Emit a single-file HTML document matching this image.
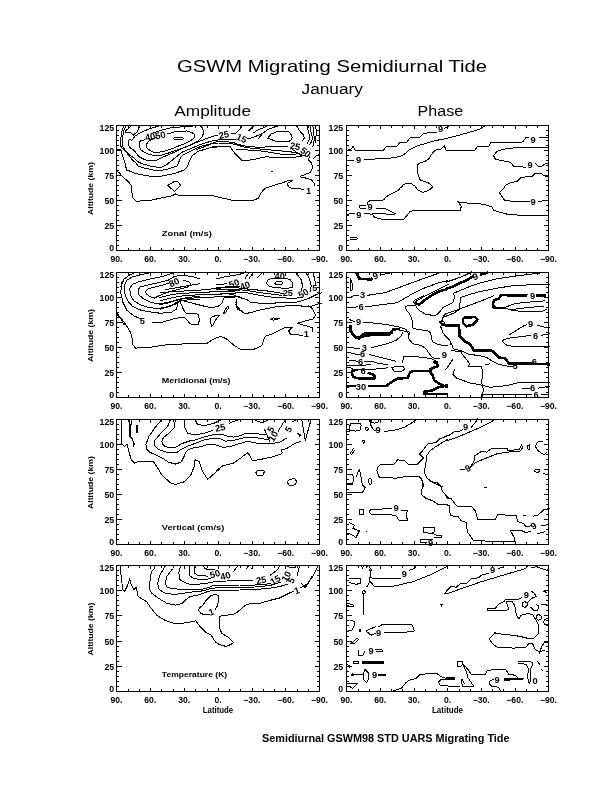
<!DOCTYPE html>
<html><head><meta charset="utf-8"><style>
html,body{margin:0;padding:0;background:#fff;}
svg{display:block;}
text{font-family:"Liberation Sans", "DejaVu Sans", sans-serif;fill:#000;}
</style></head><body>
<svg width="612" height="792" viewBox="0 0 612 792">
<path d="M116.5,125.5H319.5V250.5H116.5ZM116.5,245.5h2.5M319.5,245.5h-2.5M116.5,240.5h2.5M319.5,240.5h-2.5M116.5,235.5h2.5M319.5,235.5h-2.5M116.5,230.5h2.5M319.5,230.5h-2.5M116.5,225.5h5M319.5,225.5h-5M116.5,220.5h2.5M319.5,220.5h-2.5M116.5,215.5h2.5M319.5,215.5h-2.5M116.5,210.5h2.5M319.5,210.5h-2.5M116.5,205.5h2.5M319.5,205.5h-2.5M116.5,200.5h5M319.5,200.5h-5M116.5,195.5h2.5M319.5,195.5h-2.5M116.5,190.5h2.5M319.5,190.5h-2.5M116.5,185.5h2.5M319.5,185.5h-2.5M116.5,180.5h2.5M319.5,180.5h-2.5M116.5,175.5h5M319.5,175.5h-5M116.5,170.5h2.5M319.5,170.5h-2.5M116.5,165.5h2.5M319.5,165.5h-2.5M116.5,160.5h2.5M319.5,160.5h-2.5M116.5,155.5h2.5M319.5,155.5h-2.5M116.5,150.5h5M319.5,150.5h-5M116.5,145.5h2.5M319.5,145.5h-2.5M116.5,140.5h2.5M319.5,140.5h-2.5M116.5,135.5h2.5M319.5,135.5h-2.5M116.5,130.5h2.5M319.5,130.5h-2.5M128.50,250.5v-2.5M128.50,125.5v2.5M139.50,250.5v-2.5M139.50,125.5v2.5M150.50,250.5v-3.5M150.50,125.5v3.5M161.50,250.5v-2.5M161.50,125.5v2.5M173.50,250.5v-2.5M173.50,125.5v2.5M184.50,250.5v-3.5M184.50,125.5v3.5M195.50,250.5v-2.5M195.50,125.5v2.5M207.50,250.5v-2.5M207.50,125.5v2.5M218.50,250.5v-3.5M218.50,125.5v3.5M229.50,250.5v-2.5M229.50,125.5v2.5M240.50,250.5v-2.5M240.50,125.5v2.5M252.50,250.5v-3.5M252.50,125.5v3.5M263.50,250.5v-2.5M263.50,125.5v2.5M274.50,250.5v-2.5M274.50,125.5v2.5M285.50,250.5v-3.5M285.50,125.5v3.5M297.50,250.5v-2.5M297.50,125.5v2.5M308.50,250.5v-2.5M308.50,125.5v2.5" fill="none" stroke="#000" stroke-width="1" shape-rendering="crispEdges"/>
<path d="M346.5,125.5H548.5V250.5H346.5ZM346.5,245.5h2.5M548.5,245.5h-2.5M346.5,240.5h2.5M548.5,240.5h-2.5M346.5,235.5h2.5M548.5,235.5h-2.5M346.5,230.5h2.5M548.5,230.5h-2.5M346.5,225.5h5M548.5,225.5h-5M346.5,220.5h2.5M548.5,220.5h-2.5M346.5,215.5h2.5M548.5,215.5h-2.5M346.5,210.5h2.5M548.5,210.5h-2.5M346.5,205.5h2.5M548.5,205.5h-2.5M346.5,200.5h5M548.5,200.5h-5M346.5,195.5h2.5M548.5,195.5h-2.5M346.5,190.5h2.5M548.5,190.5h-2.5M346.5,185.5h2.5M548.5,185.5h-2.5M346.5,180.5h2.5M548.5,180.5h-2.5M346.5,175.5h5M548.5,175.5h-5M346.5,170.5h2.5M548.5,170.5h-2.5M346.5,165.5h2.5M548.5,165.5h-2.5M346.5,160.5h2.5M548.5,160.5h-2.5M346.5,155.5h2.5M548.5,155.5h-2.5M346.5,150.5h5M548.5,150.5h-5M346.5,145.5h2.5M548.5,145.5h-2.5M346.5,140.5h2.5M548.5,140.5h-2.5M346.5,135.5h2.5M548.5,135.5h-2.5M346.5,130.5h2.5M548.5,130.5h-2.5M358.50,250.5v-2.5M358.50,125.5v2.5M369.50,250.5v-2.5M369.50,125.5v2.5M380.50,250.5v-3.5M380.50,125.5v3.5M391.50,250.5v-2.5M391.50,125.5v2.5M402.50,250.5v-2.5M402.50,125.5v2.5M414.50,250.5v-3.5M414.50,125.5v3.5M425.50,250.5v-2.5M425.50,125.5v2.5M436.50,250.5v-2.5M436.50,125.5v2.5M447.50,250.5v-3.5M447.50,125.5v3.5M459.50,250.5v-2.5M459.50,125.5v2.5M470.50,250.5v-2.5M470.50,125.5v2.5M481.50,250.5v-3.5M481.50,125.5v3.5M492.50,250.5v-2.5M492.50,125.5v2.5M503.50,250.5v-2.5M503.50,125.5v2.5M515.50,250.5v-3.5M515.50,125.5v3.5M526.50,250.5v-2.5M526.50,125.5v2.5M537.50,250.5v-2.5M537.50,125.5v2.5" fill="none" stroke="#000" stroke-width="1" shape-rendering="crispEdges"/>
<path d="M116.5,272.5H319.5V397.5H116.5ZM116.5,392.5h2.5M319.5,392.5h-2.5M116.5,387.5h2.5M319.5,387.5h-2.5M116.5,382.5h2.5M319.5,382.5h-2.5M116.5,377.5h2.5M319.5,377.5h-2.5M116.5,372.5h5M319.5,372.5h-5M116.5,367.5h2.5M319.5,367.5h-2.5M116.5,362.5h2.5M319.5,362.5h-2.5M116.5,357.5h2.5M319.5,357.5h-2.5M116.5,352.5h2.5M319.5,352.5h-2.5M116.5,347.5h5M319.5,347.5h-5M116.5,342.5h2.5M319.5,342.5h-2.5M116.5,337.5h2.5M319.5,337.5h-2.5M116.5,332.5h2.5M319.5,332.5h-2.5M116.5,327.5h2.5M319.5,327.5h-2.5M116.5,322.5h5M319.5,322.5h-5M116.5,317.5h2.5M319.5,317.5h-2.5M116.5,312.5h2.5M319.5,312.5h-2.5M116.5,307.5h2.5M319.5,307.5h-2.5M116.5,302.5h2.5M319.5,302.5h-2.5M116.5,297.5h5M319.5,297.5h-5M116.5,292.5h2.5M319.5,292.5h-2.5M116.5,287.5h2.5M319.5,287.5h-2.5M116.5,282.5h2.5M319.5,282.5h-2.5M116.5,277.5h2.5M319.5,277.5h-2.5M128.50,397.5v-2.5M128.50,272.5v2.5M139.50,397.5v-2.5M139.50,272.5v2.5M150.50,397.5v-3.5M150.50,272.5v3.5M161.50,397.5v-2.5M161.50,272.5v2.5M173.50,397.5v-2.5M173.50,272.5v2.5M184.50,397.5v-3.5M184.50,272.5v3.5M195.50,397.5v-2.5M195.50,272.5v2.5M207.50,397.5v-2.5M207.50,272.5v2.5M218.50,397.5v-3.5M218.50,272.5v3.5M229.50,397.5v-2.5M229.50,272.5v2.5M240.50,397.5v-2.5M240.50,272.5v2.5M252.50,397.5v-3.5M252.50,272.5v3.5M263.50,397.5v-2.5M263.50,272.5v2.5M274.50,397.5v-2.5M274.50,272.5v2.5M285.50,397.5v-3.5M285.50,272.5v3.5M297.50,397.5v-2.5M297.50,272.5v2.5M308.50,397.5v-2.5M308.50,272.5v2.5" fill="none" stroke="#000" stroke-width="1" shape-rendering="crispEdges"/>
<path d="M346.5,272.5H548.5V397.5H346.5ZM346.5,392.5h2.5M548.5,392.5h-2.5M346.5,387.5h2.5M548.5,387.5h-2.5M346.5,382.5h2.5M548.5,382.5h-2.5M346.5,377.5h2.5M548.5,377.5h-2.5M346.5,372.5h5M548.5,372.5h-5M346.5,367.5h2.5M548.5,367.5h-2.5M346.5,362.5h2.5M548.5,362.5h-2.5M346.5,357.5h2.5M548.5,357.5h-2.5M346.5,352.5h2.5M548.5,352.5h-2.5M346.5,347.5h5M548.5,347.5h-5M346.5,342.5h2.5M548.5,342.5h-2.5M346.5,337.5h2.5M548.5,337.5h-2.5M346.5,332.5h2.5M548.5,332.5h-2.5M346.5,327.5h2.5M548.5,327.5h-2.5M346.5,322.5h5M548.5,322.5h-5M346.5,317.5h2.5M548.5,317.5h-2.5M346.5,312.5h2.5M548.5,312.5h-2.5M346.5,307.5h2.5M548.5,307.5h-2.5M346.5,302.5h2.5M548.5,302.5h-2.5M346.5,297.5h5M548.5,297.5h-5M346.5,292.5h2.5M548.5,292.5h-2.5M346.5,287.5h2.5M548.5,287.5h-2.5M346.5,282.5h2.5M548.5,282.5h-2.5M346.5,277.5h2.5M548.5,277.5h-2.5M358.50,397.5v-2.5M358.50,272.5v2.5M369.50,397.5v-2.5M369.50,272.5v2.5M380.50,397.5v-3.5M380.50,272.5v3.5M391.50,397.5v-2.5M391.50,272.5v2.5M402.50,397.5v-2.5M402.50,272.5v2.5M414.50,397.5v-3.5M414.50,272.5v3.5M425.50,397.5v-2.5M425.50,272.5v2.5M436.50,397.5v-2.5M436.50,272.5v2.5M447.50,397.5v-3.5M447.50,272.5v3.5M459.50,397.5v-2.5M459.50,272.5v2.5M470.50,397.5v-2.5M470.50,272.5v2.5M481.50,397.5v-3.5M481.50,272.5v3.5M492.50,397.5v-2.5M492.50,272.5v2.5M503.50,397.5v-2.5M503.50,272.5v2.5M515.50,397.5v-3.5M515.50,272.5v3.5M526.50,397.5v-2.5M526.50,272.5v2.5M537.50,397.5v-2.5M537.50,272.5v2.5" fill="none" stroke="#000" stroke-width="1" shape-rendering="crispEdges"/>
<path d="M116.5,419.5H319.5V544.5H116.5ZM116.5,539.5h2.5M319.5,539.5h-2.5M116.5,534.5h2.5M319.5,534.5h-2.5M116.5,529.5h2.5M319.5,529.5h-2.5M116.5,524.5h2.5M319.5,524.5h-2.5M116.5,519.5h5M319.5,519.5h-5M116.5,514.5h2.5M319.5,514.5h-2.5M116.5,509.5h2.5M319.5,509.5h-2.5M116.5,504.5h2.5M319.5,504.5h-2.5M116.5,499.5h2.5M319.5,499.5h-2.5M116.5,494.5h5M319.5,494.5h-5M116.5,489.5h2.5M319.5,489.5h-2.5M116.5,484.5h2.5M319.5,484.5h-2.5M116.5,479.5h2.5M319.5,479.5h-2.5M116.5,474.5h2.5M319.5,474.5h-2.5M116.5,469.5h5M319.5,469.5h-5M116.5,464.5h2.5M319.5,464.5h-2.5M116.5,459.5h2.5M319.5,459.5h-2.5M116.5,454.5h2.5M319.5,454.5h-2.5M116.5,449.5h2.5M319.5,449.5h-2.5M116.5,444.5h5M319.5,444.5h-5M116.5,439.5h2.5M319.5,439.5h-2.5M116.5,434.5h2.5M319.5,434.5h-2.5M116.5,429.5h2.5M319.5,429.5h-2.5M116.5,424.5h2.5M319.5,424.5h-2.5M128.50,544.5v-2.5M128.50,419.5v2.5M139.50,544.5v-2.5M139.50,419.5v2.5M150.50,544.5v-3.5M150.50,419.5v3.5M161.50,544.5v-2.5M161.50,419.5v2.5M173.50,544.5v-2.5M173.50,419.5v2.5M184.50,544.5v-3.5M184.50,419.5v3.5M195.50,544.5v-2.5M195.50,419.5v2.5M207.50,544.5v-2.5M207.50,419.5v2.5M218.50,544.5v-3.5M218.50,419.5v3.5M229.50,544.5v-2.5M229.50,419.5v2.5M240.50,544.5v-2.5M240.50,419.5v2.5M252.50,544.5v-3.5M252.50,419.5v3.5M263.50,544.5v-2.5M263.50,419.5v2.5M274.50,544.5v-2.5M274.50,419.5v2.5M285.50,544.5v-3.5M285.50,419.5v3.5M297.50,544.5v-2.5M297.50,419.5v2.5M308.50,544.5v-2.5M308.50,419.5v2.5" fill="none" stroke="#000" stroke-width="1" shape-rendering="crispEdges"/>
<path d="M346.5,419.5H548.5V544.5H346.5ZM346.5,539.5h2.5M548.5,539.5h-2.5M346.5,534.5h2.5M548.5,534.5h-2.5M346.5,529.5h2.5M548.5,529.5h-2.5M346.5,524.5h2.5M548.5,524.5h-2.5M346.5,519.5h5M548.5,519.5h-5M346.5,514.5h2.5M548.5,514.5h-2.5M346.5,509.5h2.5M548.5,509.5h-2.5M346.5,504.5h2.5M548.5,504.5h-2.5M346.5,499.5h2.5M548.5,499.5h-2.5M346.5,494.5h5M548.5,494.5h-5M346.5,489.5h2.5M548.5,489.5h-2.5M346.5,484.5h2.5M548.5,484.5h-2.5M346.5,479.5h2.5M548.5,479.5h-2.5M346.5,474.5h2.5M548.5,474.5h-2.5M346.5,469.5h5M548.5,469.5h-5M346.5,464.5h2.5M548.5,464.5h-2.5M346.5,459.5h2.5M548.5,459.5h-2.5M346.5,454.5h2.5M548.5,454.5h-2.5M346.5,449.5h2.5M548.5,449.5h-2.5M346.5,444.5h5M548.5,444.5h-5M346.5,439.5h2.5M548.5,439.5h-2.5M346.5,434.5h2.5M548.5,434.5h-2.5M346.5,429.5h2.5M548.5,429.5h-2.5M346.5,424.5h2.5M548.5,424.5h-2.5M358.50,544.5v-2.5M358.50,419.5v2.5M369.50,544.5v-2.5M369.50,419.5v2.5M380.50,544.5v-3.5M380.50,419.5v3.5M391.50,544.5v-2.5M391.50,419.5v2.5M402.50,544.5v-2.5M402.50,419.5v2.5M414.50,544.5v-3.5M414.50,419.5v3.5M425.50,544.5v-2.5M425.50,419.5v2.5M436.50,544.5v-2.5M436.50,419.5v2.5M447.50,544.5v-3.5M447.50,419.5v3.5M459.50,544.5v-2.5M459.50,419.5v2.5M470.50,544.5v-2.5M470.50,419.5v2.5M481.50,544.5v-3.5M481.50,419.5v3.5M492.50,544.5v-2.5M492.50,419.5v2.5M503.50,544.5v-2.5M503.50,419.5v2.5M515.50,544.5v-3.5M515.50,419.5v3.5M526.50,544.5v-2.5M526.50,419.5v2.5M537.50,544.5v-2.5M537.50,419.5v2.5" fill="none" stroke="#000" stroke-width="1" shape-rendering="crispEdges"/>
<path d="M116.5,565.5H319.5V691.5H116.5ZM116.5,686.5h2.5M319.5,686.5h-2.5M116.5,681.5h2.5M319.5,681.5h-2.5M116.5,676.5h2.5M319.5,676.5h-2.5M116.5,671.5h2.5M319.5,671.5h-2.5M116.5,666.5h5M319.5,666.5h-5M116.5,661.5h2.5M319.5,661.5h-2.5M116.5,656.5h2.5M319.5,656.5h-2.5M116.5,651.5h2.5M319.5,651.5h-2.5M116.5,646.5h2.5M319.5,646.5h-2.5M116.5,641.5h5M319.5,641.5h-5M116.5,636.5h2.5M319.5,636.5h-2.5M116.5,631.5h2.5M319.5,631.5h-2.5M116.5,625.5h2.5M319.5,625.5h-2.5M116.5,620.5h2.5M319.5,620.5h-2.5M116.5,615.5h5M319.5,615.5h-5M116.5,610.5h2.5M319.5,610.5h-2.5M116.5,605.5h2.5M319.5,605.5h-2.5M116.5,600.5h2.5M319.5,600.5h-2.5M116.5,595.5h2.5M319.5,595.5h-2.5M116.5,590.5h5M319.5,590.5h-5M116.5,585.5h2.5M319.5,585.5h-2.5M116.5,580.5h2.5M319.5,580.5h-2.5M116.5,575.5h2.5M319.5,575.5h-2.5M116.5,570.5h2.5M319.5,570.5h-2.5M128.50,691.5v-2.5M128.50,565.5v2.5M139.50,691.5v-2.5M139.50,565.5v2.5M150.50,691.5v-3.5M150.50,565.5v3.5M161.50,691.5v-2.5M161.50,565.5v2.5M173.50,691.5v-2.5M173.50,565.5v2.5M184.50,691.5v-3.5M184.50,565.5v3.5M195.50,691.5v-2.5M195.50,565.5v2.5M207.50,691.5v-2.5M207.50,565.5v2.5M218.50,691.5v-3.5M218.50,565.5v3.5M229.50,691.5v-2.5M229.50,565.5v2.5M240.50,691.5v-2.5M240.50,565.5v2.5M252.50,691.5v-3.5M252.50,565.5v3.5M263.50,691.5v-2.5M263.50,565.5v2.5M274.50,691.5v-2.5M274.50,565.5v2.5M285.50,691.5v-3.5M285.50,565.5v3.5M297.50,691.5v-2.5M297.50,565.5v2.5M308.50,691.5v-2.5M308.50,565.5v2.5" fill="none" stroke="#000" stroke-width="1" shape-rendering="crispEdges"/>
<path d="M346.5,565.5H548.5V691.5H346.5ZM346.5,686.5h2.5M548.5,686.5h-2.5M346.5,681.5h2.5M548.5,681.5h-2.5M346.5,676.5h2.5M548.5,676.5h-2.5M346.5,671.5h2.5M548.5,671.5h-2.5M346.5,666.5h5M548.5,666.5h-5M346.5,661.5h2.5M548.5,661.5h-2.5M346.5,656.5h2.5M548.5,656.5h-2.5M346.5,651.5h2.5M548.5,651.5h-2.5M346.5,646.5h2.5M548.5,646.5h-2.5M346.5,641.5h5M548.5,641.5h-5M346.5,636.5h2.5M548.5,636.5h-2.5M346.5,631.5h2.5M548.5,631.5h-2.5M346.5,625.5h2.5M548.5,625.5h-2.5M346.5,620.5h2.5M548.5,620.5h-2.5M346.5,615.5h5M548.5,615.5h-5M346.5,610.5h2.5M548.5,610.5h-2.5M346.5,605.5h2.5M548.5,605.5h-2.5M346.5,600.5h2.5M548.5,600.5h-2.5M346.5,595.5h2.5M548.5,595.5h-2.5M346.5,590.5h5M548.5,590.5h-5M346.5,585.5h2.5M548.5,585.5h-2.5M346.5,580.5h2.5M548.5,580.5h-2.5M346.5,575.5h2.5M548.5,575.5h-2.5M346.5,570.5h2.5M548.5,570.5h-2.5M358.50,691.5v-2.5M358.50,565.5v2.5M369.50,691.5v-2.5M369.50,565.5v2.5M380.50,691.5v-3.5M380.50,565.5v3.5M391.50,691.5v-2.5M391.50,565.5v2.5M402.50,691.5v-2.5M402.50,565.5v2.5M414.50,691.5v-3.5M414.50,565.5v3.5M425.50,691.5v-2.5M425.50,565.5v2.5M436.50,691.5v-2.5M436.50,565.5v2.5M447.50,691.5v-3.5M447.50,565.5v3.5M459.50,691.5v-2.5M459.50,565.5v2.5M470.50,691.5v-2.5M470.50,565.5v2.5M481.50,691.5v-3.5M481.50,565.5v3.5M492.50,691.5v-2.5M492.50,565.5v2.5M503.50,691.5v-2.5M503.50,565.5v2.5M515.50,691.5v-3.5M515.50,565.5v3.5M526.50,691.5v-2.5M526.50,565.5v2.5M537.50,691.5v-2.5M537.50,565.5v2.5" fill="none" stroke="#000" stroke-width="1" shape-rendering="crispEdges"/>
<text x="177" y="72.2" font-size="16.5" text-anchor="start" font-weight="normal" textLength="310" lengthAdjust="spacingAndGlyphs" >GSWM Migrating Semidiurnal Tide</text>
<text x="301.5" y="93.8" font-size="14" text-anchor="start" font-weight="normal" textLength="61.5" lengthAdjust="spacingAndGlyphs" >January</text>
<text x="174.3" y="115.8" font-size="14" text-anchor="start" font-weight="normal" textLength="76.7" lengthAdjust="spacingAndGlyphs" >Amplitude</text>
<text x="417.6" y="115.9" font-size="14" text-anchor="start" font-weight="normal" textLength="45.5" lengthAdjust="spacingAndGlyphs" >Phase</text>
<text x="262" y="741.8" font-size="10" text-anchor="start" font-weight="bold" textLength="247.5" lengthAdjust="spacingAndGlyphs" >Semidiurnal GSWM98 STD UARS Migrating Tide</text>
<text x="161.8" y="235.8" font-size="7.5" text-anchor="start" font-weight="bold" textLength="50" lengthAdjust="spacingAndGlyphs" >Zonal (m/s)</text>
<text x="161.8" y="383" font-size="7.5" text-anchor="start" font-weight="bold" textLength="68.8" lengthAdjust="spacingAndGlyphs" >Meridional (m/s)</text>
<text x="161.8" y="529.5" font-size="7.5" text-anchor="start" font-weight="bold" textLength="62.5" lengthAdjust="spacingAndGlyphs" >Vertical (cm/s)</text>
<text x="161.8" y="676.8" font-size="7.5" text-anchor="start" font-weight="bold" textLength="65.4" lengthAdjust="spacingAndGlyphs" >Temperature (K)</text>
<text x="116.50" y="261.9" font-size="8.6" text-anchor="middle" font-weight="bold" >90.</text>
<text x="150.33" y="261.9" font-size="8.6" text-anchor="middle" font-weight="bold" >60.</text>
<text x="184.17" y="261.9" font-size="8.6" text-anchor="middle" font-weight="bold" >30.</text>
<text x="218.00" y="261.9" font-size="8.6" text-anchor="middle" font-weight="bold" >0.</text>
<text x="251.83" y="261.9" font-size="8.6" text-anchor="middle" font-weight="bold" >−30.</text>
<text x="285.67" y="261.9" font-size="8.6" text-anchor="middle" font-weight="bold" >−60.</text>
<text x="319.50" y="261.9" font-size="8.6" text-anchor="middle" font-weight="bold" >−90.</text>
<text x="114.2" y="250.9" font-size="8.8" text-anchor="end" font-weight="bold" >0</text>
<text x="114.2" y="228.9" font-size="8.8" text-anchor="end" font-weight="bold" >25</text>
<text x="114.2" y="203.9" font-size="8.8" text-anchor="end" font-weight="bold" >50</text>
<text x="114.2" y="178.9" font-size="8.8" text-anchor="end" font-weight="bold" >75</text>
<text x="114.2" y="153.9" font-size="8.8" text-anchor="end" font-weight="bold" >100</text>
<text x="114.2" y="130.9" font-size="8.8" text-anchor="end" font-weight="bold" >125</text>
<text x="346.50" y="261.9" font-size="8.6" text-anchor="middle" font-weight="bold" >90.</text>
<text x="380.17" y="261.9" font-size="8.6" text-anchor="middle" font-weight="bold" >60.</text>
<text x="413.83" y="261.9" font-size="8.6" text-anchor="middle" font-weight="bold" >30.</text>
<text x="447.50" y="261.9" font-size="8.6" text-anchor="middle" font-weight="bold" >0.</text>
<text x="481.17" y="261.9" font-size="8.6" text-anchor="middle" font-weight="bold" >−30.</text>
<text x="514.83" y="261.9" font-size="8.6" text-anchor="middle" font-weight="bold" >−60.</text>
<text x="548.50" y="261.9" font-size="8.6" text-anchor="middle" font-weight="bold" >−90.</text>
<text x="343.2" y="250.9" font-size="8.8" text-anchor="end" font-weight="bold" >0</text>
<text x="343.2" y="228.9" font-size="8.8" text-anchor="end" font-weight="bold" >25</text>
<text x="343.2" y="203.9" font-size="8.8" text-anchor="end" font-weight="bold" >50</text>
<text x="343.2" y="178.9" font-size="8.8" text-anchor="end" font-weight="bold" >75</text>
<text x="343.2" y="153.9" font-size="8.8" text-anchor="end" font-weight="bold" >100</text>
<text x="343.2" y="130.9" font-size="8.8" text-anchor="end" font-weight="bold" >125</text>
<text x="0" y="0" font-size="7.8" font-weight="bold" text-anchor="middle" textLength="52.8" lengthAdjust="spacingAndGlyphs" transform="translate(93.2,188.6) rotate(-90)">Altitude (km)</text>
<text x="116.50" y="408.9" font-size="8.6" text-anchor="middle" font-weight="bold" >90.</text>
<text x="150.33" y="408.9" font-size="8.6" text-anchor="middle" font-weight="bold" >60.</text>
<text x="184.17" y="408.9" font-size="8.6" text-anchor="middle" font-weight="bold" >30.</text>
<text x="218.00" y="408.9" font-size="8.6" text-anchor="middle" font-weight="bold" >0.</text>
<text x="251.83" y="408.9" font-size="8.6" text-anchor="middle" font-weight="bold" >−30.</text>
<text x="285.67" y="408.9" font-size="8.6" text-anchor="middle" font-weight="bold" >−60.</text>
<text x="319.50" y="408.9" font-size="8.6" text-anchor="middle" font-weight="bold" >−90.</text>
<text x="114.2" y="397.9" font-size="8.8" text-anchor="end" font-weight="bold" >0</text>
<text x="114.2" y="375.9" font-size="8.8" text-anchor="end" font-weight="bold" >25</text>
<text x="114.2" y="350.9" font-size="8.8" text-anchor="end" font-weight="bold" >50</text>
<text x="114.2" y="325.9" font-size="8.8" text-anchor="end" font-weight="bold" >75</text>
<text x="114.2" y="300.9" font-size="8.8" text-anchor="end" font-weight="bold" >100</text>
<text x="114.2" y="277.9" font-size="8.8" text-anchor="end" font-weight="bold" >125</text>
<text x="346.50" y="408.9" font-size="8.6" text-anchor="middle" font-weight="bold" >90.</text>
<text x="380.17" y="408.9" font-size="8.6" text-anchor="middle" font-weight="bold" >60.</text>
<text x="413.83" y="408.9" font-size="8.6" text-anchor="middle" font-weight="bold" >30.</text>
<text x="447.50" y="408.9" font-size="8.6" text-anchor="middle" font-weight="bold" >0.</text>
<text x="481.17" y="408.9" font-size="8.6" text-anchor="middle" font-weight="bold" >−30.</text>
<text x="514.83" y="408.9" font-size="8.6" text-anchor="middle" font-weight="bold" >−60.</text>
<text x="548.50" y="408.9" font-size="8.6" text-anchor="middle" font-weight="bold" >−90.</text>
<text x="343.2" y="397.9" font-size="8.8" text-anchor="end" font-weight="bold" >0</text>
<text x="343.2" y="375.9" font-size="8.8" text-anchor="end" font-weight="bold" >25</text>
<text x="343.2" y="350.9" font-size="8.8" text-anchor="end" font-weight="bold" >50</text>
<text x="343.2" y="325.9" font-size="8.8" text-anchor="end" font-weight="bold" >75</text>
<text x="343.2" y="300.9" font-size="8.8" text-anchor="end" font-weight="bold" >100</text>
<text x="343.2" y="277.9" font-size="8.8" text-anchor="end" font-weight="bold" >125</text>
<text x="0" y="0" font-size="7.8" font-weight="bold" text-anchor="middle" textLength="52.8" lengthAdjust="spacingAndGlyphs" transform="translate(93.2,335.6) rotate(-90)">Altitude (km)</text>
<text x="116.50" y="555.9" font-size="8.6" text-anchor="middle" font-weight="bold" >90.</text>
<text x="150.33" y="555.9" font-size="8.6" text-anchor="middle" font-weight="bold" >60.</text>
<text x="184.17" y="555.9" font-size="8.6" text-anchor="middle" font-weight="bold" >30.</text>
<text x="218.00" y="555.9" font-size="8.6" text-anchor="middle" font-weight="bold" >0.</text>
<text x="251.83" y="555.9" font-size="8.6" text-anchor="middle" font-weight="bold" >−30.</text>
<text x="285.67" y="555.9" font-size="8.6" text-anchor="middle" font-weight="bold" >−60.</text>
<text x="319.50" y="555.9" font-size="8.6" text-anchor="middle" font-weight="bold" >−90.</text>
<text x="114.2" y="544.9" font-size="8.8" text-anchor="end" font-weight="bold" >0</text>
<text x="114.2" y="522.9" font-size="8.8" text-anchor="end" font-weight="bold" >25</text>
<text x="114.2" y="497.9" font-size="8.8" text-anchor="end" font-weight="bold" >50</text>
<text x="114.2" y="472.9" font-size="8.8" text-anchor="end" font-weight="bold" >75</text>
<text x="114.2" y="447.9" font-size="8.8" text-anchor="end" font-weight="bold" >100</text>
<text x="114.2" y="424.9" font-size="8.8" text-anchor="end" font-weight="bold" >125</text>
<text x="346.50" y="555.9" font-size="8.6" text-anchor="middle" font-weight="bold" >90.</text>
<text x="380.17" y="555.9" font-size="8.6" text-anchor="middle" font-weight="bold" >60.</text>
<text x="413.83" y="555.9" font-size="8.6" text-anchor="middle" font-weight="bold" >30.</text>
<text x="447.50" y="555.9" font-size="8.6" text-anchor="middle" font-weight="bold" >0.</text>
<text x="481.17" y="555.9" font-size="8.6" text-anchor="middle" font-weight="bold" >−30.</text>
<text x="514.83" y="555.9" font-size="8.6" text-anchor="middle" font-weight="bold" >−60.</text>
<text x="548.50" y="555.9" font-size="8.6" text-anchor="middle" font-weight="bold" >−90.</text>
<text x="343.2" y="544.9" font-size="8.8" text-anchor="end" font-weight="bold" >0</text>
<text x="343.2" y="522.9" font-size="8.8" text-anchor="end" font-weight="bold" >25</text>
<text x="343.2" y="497.9" font-size="8.8" text-anchor="end" font-weight="bold" >50</text>
<text x="343.2" y="472.9" font-size="8.8" text-anchor="end" font-weight="bold" >75</text>
<text x="343.2" y="447.9" font-size="8.8" text-anchor="end" font-weight="bold" >100</text>
<text x="343.2" y="424.9" font-size="8.8" text-anchor="end" font-weight="bold" >125</text>
<text x="0" y="0" font-size="7.8" font-weight="bold" text-anchor="middle" textLength="52.8" lengthAdjust="spacingAndGlyphs" transform="translate(93.2,482.6) rotate(-90)">Altitude (km)</text>
<text x="116.50" y="702.9" font-size="8.6" text-anchor="middle" font-weight="bold" >90.</text>
<text x="150.33" y="702.9" font-size="8.6" text-anchor="middle" font-weight="bold" >60.</text>
<text x="184.17" y="702.9" font-size="8.6" text-anchor="middle" font-weight="bold" >30.</text>
<text x="218.00" y="702.9" font-size="8.6" text-anchor="middle" font-weight="bold" >0.</text>
<text x="251.83" y="702.9" font-size="8.6" text-anchor="middle" font-weight="bold" >−30.</text>
<text x="285.67" y="702.9" font-size="8.6" text-anchor="middle" font-weight="bold" >−60.</text>
<text x="319.50" y="702.9" font-size="8.6" text-anchor="middle" font-weight="bold" >−90.</text>
<text x="114.2" y="691.9" font-size="8.8" text-anchor="end" font-weight="bold" >0</text>
<text x="114.2" y="669.7" font-size="8.8" text-anchor="end" font-weight="bold" >25</text>
<text x="114.2" y="644.5" font-size="8.8" text-anchor="end" font-weight="bold" >50</text>
<text x="114.2" y="619.3" font-size="8.8" text-anchor="end" font-weight="bold" >75</text>
<text x="114.2" y="594.1" font-size="8.8" text-anchor="end" font-weight="bold" >100</text>
<text x="114.2" y="570.9" font-size="8.8" text-anchor="end" font-weight="bold" >125</text>
<text x="346.50" y="702.9" font-size="8.6" text-anchor="middle" font-weight="bold" >90.</text>
<text x="380.17" y="702.9" font-size="8.6" text-anchor="middle" font-weight="bold" >60.</text>
<text x="413.83" y="702.9" font-size="8.6" text-anchor="middle" font-weight="bold" >30.</text>
<text x="447.50" y="702.9" font-size="8.6" text-anchor="middle" font-weight="bold" >0.</text>
<text x="481.17" y="702.9" font-size="8.6" text-anchor="middle" font-weight="bold" >−30.</text>
<text x="514.83" y="702.9" font-size="8.6" text-anchor="middle" font-weight="bold" >−60.</text>
<text x="548.50" y="702.9" font-size="8.6" text-anchor="middle" font-weight="bold" >−90.</text>
<text x="343.2" y="691.9" font-size="8.8" text-anchor="end" font-weight="bold" >0</text>
<text x="343.2" y="669.7" font-size="8.8" text-anchor="end" font-weight="bold" >25</text>
<text x="343.2" y="644.5" font-size="8.8" text-anchor="end" font-weight="bold" >50</text>
<text x="343.2" y="619.3" font-size="8.8" text-anchor="end" font-weight="bold" >75</text>
<text x="343.2" y="594.1" font-size="8.8" text-anchor="end" font-weight="bold" >100</text>
<text x="343.2" y="570.9" font-size="8.8" text-anchor="end" font-weight="bold" >125</text>
<text x="0" y="0" font-size="7.8" font-weight="bold" text-anchor="middle" textLength="52.8" lengthAdjust="spacingAndGlyphs" transform="translate(93.2,629.1) rotate(-90)">Altitude (km)</text>
<text x="218" y="712.8" font-size="8.8" text-anchor="middle" font-weight="bold" textLength="30.4" lengthAdjust="spacingAndGlyphs" >Latitude</text>
<text x="447.5" y="712.8" font-size="8.8" text-anchor="middle" font-weight="bold" textLength="31" lengthAdjust="spacingAndGlyphs" >Latitude</text>
<path d="M173.5,138.5 175,137.3 178,137 182,137.5 183.5,138.5 182,139.7 178,140 175,139.7 173.5,138.5M157,137 150.6,140 148,142 146.7,143.9 146.4,146.5 147.4,148.5 150,150.5 153.3,152.1 156,152.7 163,151.5 170,149.5 177.3,146.5 185,143.5 191,140.5 195,137.5 194,133.6 187.1,130.9 174.8,131.9 167,134M144.5,139.8 142,140.5 139.7,141.3 139.3,145.4 140.5,149.5 143.8,152 148.7,154.4 156,155.8 162.3,155 168.5,153 176.9,150 184.2,147.5 191.6,144.3 197.8,141 202,137 204,132 202,127.5 200,125.5M152,133.5 160,130.5 170,128 180,127 190,126.5 196,125.5M160,125.5 156.8,126.6 148.7,129.1 143,131.5 138.1,134 134.8,136.4 133.2,138.9 131.5,140.5 130.3,139.3 129.1,140.1 128.3,142.2 128.3,144.6 129.5,147.1 131.5,148.7 134.3,150.5 135.6,152.4 137.6,155 139.5,157 142.1,158.3 144.8,159.6 149.3,160.9 156,160.6 162.3,157.4 169.6,154.3 176.9,151.1 183.2,148 190.5,145 197.8,142 206.2,138.6 215.6,135.5 218,135M231,133.8 236.2,133 239.6,129.6 241.9,126.1 242.5,125.5M131.5,125.5 128.3,128.7 125.8,130.7 125.4,132.4 128.3,132 131.1,133.2 133.2,135.2 135.6,133.2 137.7,131.1 138.5,128.7 138.1,125.5M126.6,125.5 124.6,128.3 123.4,131.5 122.9,135.6 122.5,139.7 122.4,143.8 122.9,147 124.5,149.2 127.1,152.4 130.4,155.7 134.3,158.3 137.6,161.6 141.5,163.5 150,166 156,167 161.2,167.5 166.5,164.7 171.7,160.6 176.9,156.4 182.1,152.2 187.4,150 195.7,146.5 203.1,143.5 211.4,141.2 217.9,140 233.9,139.8 236.2,140M247.5,139 255.6,136.4 261.3,134.2 265,131.9M123.8,125.5 122.9,128.3 121.7,132.4 120.9,137.3 120.5,141.3 120.7,145.4 121.3,147.5 122.5,148.7 123.8,149.5 125.8,151.8 128.4,155 131,158.3 133.6,160.9 136.3,163.5 138.2,166.1 142,167.5 146.6,168.5 156.8,171 167,169.3 177.2,166 179,161.6 181.1,156.4 185.3,153.8 190.5,151.1 194.7,149 202,146 210.4,144 217.9,141.5 228.2,141.8 233.9,142.8 239.6,144.8 246.5,146.4 254.5,147 265,147 280,146.5 288,146.8M197,149.5 204.1,146.8 212.2,143.5 217.9,143 227,143.2 235,144.2 243,146.8 252.2,148.3 265,149.5 280,150.8 290.4,151.8 298.5,153.4 302.6,155.4M236,149 245,149.8 260,150.8 270.1,152.4 282.3,154.4 295.5,155M116.5,150 120.6,149.8 121.2,151.8 122.5,155 123.8,159 125.2,163.5 126.5,170 129.6,171 134.9,173.4 139.8,174.4 150,176.1 161.9,176.1 173.8,173.6 184,170.2 187.4,166.8 189.5,160.6 192.6,155.3 197.8,151.5 204.1,149.5 212.2,147 217.9,146 225.9,146 230.5,147 231.6,149 235,153.6 238.5,157 241.9,160.5 252.2,159.9 261.7,157.5 266.1,156.9 278.2,157.4 290.4,157.9 300.5,156.4 304.6,155.4M116.5,171 119.4,172.7 122.8,177 127.9,181.2 131.3,185.5 132.1,194 133,198.2 136.4,201.1 148.3,200.8 160.2,198.2 172.1,195.7 175.5,194 178.9,195.2 192.5,195.3 211.2,195.3 220,197.5 235,200.8 251.7,200.8 258.3,198.3 260.8,193.3 265,188.3 275,185 283.3,182.5 288.3,180.5 292.5,180.8 287.5,183.3 288.3,186.7 291.7,188.3 303.3,189.2M167.8,185.5 173.8,181.8 178,181.8 180.6,185.1 174.6,191.4 167.8,185.5M271.2,171.7 272.4,171.7M267.6,138.2 271.1,134.1 277.2,131.6 284.8,131.2 289.6,132.2 291,134.6 292.4,137.7 291,140.1 288.9,141.5 280,141.5 275.2,141 267.6,138.2M296.5,125.7 298.5,129.1 300.6,131.9 303.3,134.6 304.4,137.7 303.3,139.8 302,140.8M258,139 263,133 268,129.5 275,127 280,125.5M248.8,130.7 251,128.4 253.3,126.1M253,133 258,130 264,127.5 268,125.5M211,147.3 216.7,147.3M307.5,126.4 308.1,130.5 309.5,135.3 309.5,138.7 308.1,142.2 307.1,143.5M310.2,126.4 310.9,131.9 312.3,136.7 311.9,140.8 310.5,143.5 309.5,144.6M312.9,126.4 313.6,131.9 314.3,138.7 313.6,144.2 312.9,146.3M315.7,126.4 316.4,131.9 315.7,138.7 315.7,142.2M291,148.3 301.3,155.9M310,156 308.3,160 311.7,163.3 312.5,168.3 310,172.5 301.7,175.8 300,176.7 306.7,178.3 311.7,180 314.2,183.3 315,185.8M313,159.3 316.4,155.9 319,154.5" fill="none" stroke="#000" stroke-width="1" stroke-linejoin="round" stroke-linecap="round" shape-rendering="crispEdges"/>
<path d="M347.7,150 351,149.2 353,146.3 355.2,150 383.5,150 386.8,146.3 396.8,146.3 400.2,142.2 406.8,142.2 410.2,137.5 419.3,137.5 423.5,133.3 434.3,132.5 437,132M444.5,128.3 448,127.2 449.5,125.5M346.5,160 353.5,160M364.3,160 371,159.2 389.3,158.3 399.3,156.7 404.3,154.2 409.3,150 417.7,145.8 426,143.3 434.3,140.8 442.7,139.2 446,138.6 456.2,136 468.1,132.6 480,129.2 485.1,125.5M414.3,185 417.7,190 422.7,192.5 429.3,190 432.7,186.7 429.3,183.3 420.2,180 417.7,173.3 417.7,165 419.3,163.3 426,160.8 429.3,158.3 432.7,152.5 436,150 441,149.2 444.3,145.8 446,150 474.9,150.1 477.4,146.8 488.5,146.8 491,142.5 522.5,142 525.9,137.7 529,137.2M539.5,137.2 546.3,137.2 548.5,137.2M548.5,147.1 522.5,147.1 505.5,148.8 497,151.3 493.6,155.6 495.3,159 502.1,160.7 510.6,162.4 514,166.6 525.5,167.1M535.5,163.2 538.6,166.6 541.2,166.6 544.6,164.1 548,163.2M548.5,176 544.6,176 541.2,173.4 535.2,173.4 532.7,176 525.9,176.8 520.8,177.7 517.4,181.1 510.6,182.8 505.5,185.3 503.8,188 499.5,192.6 504.6,200.3 514,201.5 529.3,201.5M538.6,201.5 544.6,200.6 548.5,200.6M401,188 403.5,184.2 411,183.3 414.3,185.8M402.7,185 398.5,190 394.3,192.5 390.2,194.2 386,197 383.5,200 370.2,200.3 367.7,202.5 367.3,204.5M366,205.3 359.7,205.3 359.7,208 366,208M376,208 384.3,208.3 389.3,210.8 396,213.7 391,214.7 386,214 372,213.7M346.5,215 349.3,213.7 355,213.7M364.3,213.7 372.7,214.2 374.7,217.5 382.7,219.5 403.5,219.5 406,216.7 410.2,211.3 416,210.3 446,210.5 460.4,210.5 461.3,206.2 457.9,201.7 462.1,202.8 476.6,203.4 485.1,204.5 491.9,207.1 493.6,210.1 498.7,211.8 507.2,214.2 519.1,215.2 548.5,215.2M350,237.8 357,237.8 357.7,238.5 357,239.2 350,239.2" fill="none" stroke="#000" stroke-width="1" stroke-linejoin="round" stroke-linecap="round" shape-rendering="crispEdges"/>
<path d="M165.41,289.57 176.39,287.78 187.37,285.73 200,283.67M183.25,280.24 188.75,281.61 190.8,284.35 187.37,287.1 181.88,288.47 173.65,290.53 166.78,292.59 159.92,295.33 154.43,298.08 150.31,296.71 146.2,293.96 145.51,291.22 147.57,289.16 154.43,287.1 162.67,285.04 168.84,282.98M200,278.86 192.86,276.8 184.63,275.43 175.02,276.12 168.16,280.24 157.18,282.98 147.57,285.04 140.02,287.1 137.96,289.84 138.65,294.65 143.45,298.76 150.31,302.2 157.18,303.57 165.41,302.88 173.65,300.82 180.51,298.76 188.75,297.39 200,296.02M173.65,272.69 169.53,274.06 161.29,276.8 150.31,278.86 139.33,281.61 132.47,284.35 129.73,288.47 130.41,295.33 133.84,300.82 140.71,304.94 148.94,307.69 158.55,308.37 168.16,307 175.02,304.25 179.14,301.51 184.63,300.14 200,299.45M153.06,272 147.57,273.37 140.71,274.75 132.47,276.8 126.98,280.24 124.24,285.73 124.92,293.96 127.67,300.82 132.47,306.31 139.33,309.75 148.94,311.8 159.92,313.18 170.9,312.49 176.39,309.06 177.76,303.57 179.14,301.51M135.22,272.69 129.73,274.75 124.24,278.86 121.49,282.98 120.8,292.59 122.86,302.2 126.98,310.43 133.84,315.92 140.71,318.67M123.55,280.92 121.49,284.35 120.8,287.1M117.37,313.18 118.75,315.92 121.49,320.04 124.24,324.98M160,292.84 173.07,291.54 186.14,290.88 199.22,290.23 212.29,288.92 225.36,287.61 240,286.31M160,297.42 170.46,294.8 179.61,293.5 192.68,292.84 205.75,292.19 218.82,291.54 230.59,290.88 240,290.88M160,300.69 167.84,298.73 176.99,296.76 186.14,295.46 199.22,294.8 212.29,294.8 225.36,293.5 240,292.84M160,304.61 166.54,303.3 173.07,301.34 178.3,300.03 183.53,298.73 192.68,298.07 205.75,297.42 218.82,296.76 240,296.11M152.16,322.25 160,322.91 173.07,318.99 183.53,317.03 186.14,318.99 190.07,323.56 193.99,324.87 198.56,324.22 199.22,320.29 198.56,314.41 193.99,313.1 186.14,313.1 183.53,309.84 181.57,304.61 179.61,301.34 180.92,300.03 192.68,303.3 205.75,306.57 212.29,307.88 218.82,305.92 222.75,301.99 223.4,298.07 227.97,297.42 240,296.76M160,309.18 167.84,306.57 174.38,303.95 177.65,301.34 179.61,300.95M223.4,313.1 225.36,309.18 227.97,305.92 228.63,307.88 226.01,311.8 224.31,313.1 223.4,313.1M210.98,324.22 210.33,318.99 212.29,316.37 220.13,315.07 216.21,318.99 213.59,324.22 211.63,326.83 210.98,324.22M235.82,301.99 237.12,308.53 240,311.14M274.89,283.26 276.62,281.53 281.82,281.53 282.68,283.26 280.95,284.99 275.75,284.99 274.89,283.26M266.23,283.26 267.96,279.79 273.16,278.06 285.28,278.06 290.48,279.79 293.08,284.12 292.21,287.59 285.28,288.45 276.62,287.59 269.69,286.72 266.23,283.26M295.67,272.87 300.87,278.93 302.6,285.86 300.87,291.05M306.07,272.87 309.53,278.93 311.26,285.86 310.4,291.05M312.99,272.87 314.73,278.93 315.59,284.12M216,278.93 222.93,277.2 233.32,275.46 241.98,273.73 245.44,272M245.44,278.06 248.04,273.73 249.77,272M248.91,278.93 252.37,273.73 254.1,272M257.57,277.2 261.03,273.73 262.76,272M216,284.99 226.39,283.78M216,287.59 229.86,286.72 241.98,288.45 250.64,289.32 259.3,290.19 267.96,291.05 278.35,292.78 283.55,293.65M216,289.32 231.59,289.32 245.44,290.19 255.84,291.92 267.96,293.65 281.82,295.38M216,291.92 233.32,291.92 247.18,292.78 259.3,295.38 271.42,297.11 285.28,297.98 293.94,298.85 297.41,297.98 302.6,297.11M216,294.52 226.39,293.65 233.32,294.52 238.52,297.11 247.18,299.71 250.64,302.31 259.3,303.18 273.16,303.18 285.28,302.31 295.67,302.31 302.6,300.58 309.53,297.98 316.46,294.52 322,292.78M236.78,299.71 235.92,304.91 240.25,310.1 244.58,313.57 250.64,312.7 259.3,310.1 267.96,308.37 276.62,306.64 288.75,305.77 299.14,305.77 307.8,306.64 312.99,305.77 318.19,304.04 322,303.18M270.56,319.11 273.16,317.9 279.22,318.76 273.16,320.15 270.56,319.11M116.5,313 117.7,315 121.1,318.4 126.2,325.2 130.4,332 132.1,338.8 132.1,343.9 135.5,348.1 150,347.3 167,344.7 184,343.9 206.1,343.9 211.2,340.5 216,337.9 221.2,336.5 226.4,338.8 233.3,344.8 240.2,349.2 254.1,349.2 261.9,345.7 263.6,339.6 265.4,336.2 273.2,333.6 285.3,327.5 292.2,327.2 288.7,331 290.5,334.4 302.6,335.3M307.8,305 312.1,308.5 315.6,315.4 313,318.9 297.4,323.2 306.1,325.8 312.1,327.5 313,331.8" fill="none" stroke="#000" stroke-width="1" stroke-linejoin="round" stroke-linecap="round" shape-rendering="crispEdges"/>
<path d="M350.17,278.67 351.83,282 352.67,288.67 351,291.17 350.17,287 350.17,278.67M349.33,297.83 354.33,295.33 359,295M367.33,295.33 384.33,292.83 396,288.67 409.33,283.67 421,279.5 432.67,275.33 439.33,272.83M349.33,307.83 356,307 357.67,306.67M364.67,307 382.67,304.5 396,302.83 402.67,299.5 412.67,293.67 422.67,288.67 436,283.67 448,280.33M349.33,319.5 354.33,321.67M362.67,322 379.33,323.67 391,325.33 399.33,327 406,329.5 409.33,335M413.5,302.83 426,295.33 439.33,288.67 448,284.5M439.33,322 442.67,320.33 446,325.33 448,327M381,274.5 387.67,273.67 392.67,272M446,282.2 456.2,278.8 464.69,275.4 471.49,272M446,305.99 452.8,302.59 454.5,297.49 453.65,293.24 459.59,290.69 469.79,286.44 479.99,283.05 496.98,278.8 513.97,276.25 527.57,274.55 541.16,272.85M446,316.18 454.5,312.78 459.59,309.39 460.44,297.49 468.09,294.94 479.99,291.54 496.98,288.14 513.97,285.59 530.97,284.75 550,284.75M446,313.63 456.2,310.24 469.79,305.14 483.39,300.04 493.58,295.79M508.88,335.05 517.37,329.78 524.17,325.53 526.72,324.68M537.76,325.53 544.56,327.23 550,328.08M371,347.83 387.67,343.67 396,340.33 401,336.17 402.67,332M346,347.83 352.67,347.83 359.33,348.67M349.33,352 352.67,353.67 359.33,354.5M369.33,354.5 379.33,357 389.33,359.5 396,361.17M349.33,360.33 357.67,361.17M364.33,361.17 374.33,362 379.33,363.67 387.67,364.5M346,365.33 356,365.33 362.67,365.33 371,364.5M391.83,367.83 396,366.17 403.5,366.17 404.33,369.5 401,372 394.33,371.17 391.83,367.83M402.67,362.83 403.5,357 412.67,356.17 419.33,357 426,357.83 431,358.67 434.33,360.33 437.67,362M409.33,332 408.5,338.67 412.67,343.67 421,345.33 426,348.67 429.33,353.67 432.67,357.83 439.33,358.67M349.33,367 354.33,369.5 371,369.5 387.67,367.83M530.97,335.4 524.17,336.25 510.58,337.95 503.78,339.65 502.08,341.35 507.18,345.59 513.97,346.44 550,346.44M541.16,335.4 550,333.7M446,336.25 449.4,339.65 453.65,348.99 461.29,350.69 468.09,354.09 479.99,355.79 486.78,357.49 491.88,360.89 498.68,364.29 507.18,365.99 512.27,366.33M451.1,350.69 461.29,351.54 462.14,354.09 466.39,359.19 469.79,364.29 468.09,365.99 476.59,366.84 481.69,366.84 482.54,372.78 481.69,382.98 483.39,389.78 482.54,394.88 481.69,399.97M454.5,369.39 452.8,374.48 456.2,377.88 462.99,380.43 469.79,382.98 479.99,384.68 490.18,387.23 500.38,386.38 510.58,384.68 517.37,382.98 525.87,382.98 534.37,382.98 544.56,382.98 550,382.98M522.47,388.08 529.27,388.08M538.61,388.08 542.86,387.23 550,386.38M482.54,394.88 513.97,394.88 531.82,394.88M541.16,394.88 547.96,394.88M485.08,364.29 489.33,363.95M452.8,359.19 449.4,364.29 446,369.39M505,307.8 512.6,310.5 518,311 543.4,311 547,309M505,307.3 513.7,304.1 523.2,302.5 544.5,300.9M509.4,310 516.9,308.9 525.4,307.8 543.4,306.2M405.3,306.4 409.9,305.3 415.6,305.3 416.7,307.6 420.2,311 425.9,314.4 435,315.6 438.5,313.3 443,307.6 446,306M405.3,306.4 406.4,309.9 409.9,314.4 412.2,320.2 412.2,327 413.9,328.7 421.3,329.9 428.2,331 430.5,332.7 431.6,338.5 432.7,341.9 437.3,344.2 440.8,345 448,346M395,329.3 401.9,330.5 409.3,332M446,316.2 443,317.5 441.9,322.5M446,313.6 443,316.7 441.9,319M441.9,322.5 440.8,327 443,332.7 446.5,337.3 449.9,340.8 451,345M413.3,301.3 415.6,299.6 421.3,296.7 423.6,295.6" fill="none" stroke="#000" stroke-width="1" stroke-linejoin="round" stroke-linecap="round" shape-rendering="crispEdges"/>
<path d="M121.1,419 121.1,432.59 121.95,444.49 124.5,446.19 127.05,444.49 128.75,451.29 131.29,459.78 134.69,463.18 138.09,461.48 153.39,461.48 156.78,466.58 161.88,475.08 170.38,482.73 175.48,484.42 183.97,481.88 190.77,475.08 194.17,466.58 195.02,459.78 199.27,461.48 202.67,471.68 207.76,479.33 214.56,473.38 220,468.62M136.73,425.8 137.41,425.8 137.58,432.59 136.73,432.59 136.73,425.8M228.99,423.33 233.32,421.6 238.52,419.87 240.25,419M254.1,419 257.57,421.6 262.76,422.46 267.96,419.87 268.83,419M264.5,429.39 269.69,441.52M278.35,431.12 283.55,422.46 285.28,419.87M292.21,421.6 296.54,419.87M301.74,419 305.2,440.65 311.26,419M297.41,433.72 300.87,434.59 299.48,436.32M216,470.96 222.93,465.76 233.32,463.17 241.98,457.1 247.18,452.77 249.77,455.37 252.37,460.57 259.3,459.7 271.42,457.1 280.08,454.51 282.68,452.77 280.95,450.18 287.01,448.44 292.21,444.98 297.41,442.38 300.87,441.52M255.84,472.69 257.57,470.61 261.9,470.09 264.5,471.31 262.76,475.29 257.57,475.81 255.84,472.69M287.01,482.22 289.61,479.27 294.81,478.75 296.54,481.35 295.67,484.82 289.61,485.68 287.01,482.22M129.7,419.5 129.5,428.2 129.7,436.2 131.4,437.9 133.7,441.9 134.3,444.7 133.7,446.1 133.2,441.9 132,438.4 130.6,436.2 130.9,425.9 131.4,419.5M161.9,419.5 155.1,427.5 148.8,436.6 145.9,444.5 146.9,449.4 149.8,452.3 155.7,454.8 162.5,458.2 168.4,462.1 175.3,464.1 181.2,462.1 184.1,456.3 186.1,451.4 191,448.4 196,447.4 201.9,446.5 207.8,444.5 215.6,445 223.5,447.4 230.3,446.5 238.2,444 247,441.5 250.9,442 259.4,443.7 271.2,443.7 280.6,441.9 286,438.5M170.4,419.5 167.5,426.8 159.6,434.7 154.7,440.6 154.7,445.5 158.6,449.4 166.5,452.3 176.3,452.8 181.2,449.4 187.1,446.5 194.9,443.5 200,441.5 203.8,440.1 213.6,438.1 220.5,438.6 225.4,441.1 233.3,440.6 240.1,438.6 247,437.1 256,437.6 264.1,439 267.6,439.6M175.3,419.5 174.3,427.8 169.4,432.7 163.5,437.6 161.6,441.5 163.5,445.5 167.5,447.4 175.3,447.4 182.2,443.5 189,441.1 194.9,440.1 200,438.5 203.8,437.1 213.6,434.7 221.5,434.2 227.4,436.2 233.3,437.1 240.1,435.7 245,433.7 250.9,433.2 256,433.7 261.8,434.3 265.3,434.9M184.1,419.5 185.1,428.8 188,433.7 196,434.5 202.9,433.7 212.7,430.3M194.9,419.5 197.8,424.9 199.9,424.9 205.8,425.4 213.6,423.4 218.5,421 221.5,419.5" fill="none" stroke="#000" stroke-width="1" stroke-linejoin="round" stroke-linecap="round" shape-rendering="crispEdges"/>
<path d="M365.17,429 366,427.33 368,427.67 368.5,429.33 366.83,430.67 365.17,429M371,419 371.83,422.33 374.33,423.17 377.67,422.33 379.33,419M384.33,431.5 396,429.83 404.33,427.33 412.67,422.33 416,419.83M350.17,453.17 353.5,448.67M351.33,454.83 354.33,450.67M448,435.67 439.33,439 436,442.33 427.67,444 422.67,450.67 419.33,454 423.5,458.17 417.67,464 409.33,464.83 404.33,460.67 397.67,459.83 394.33,464 381,464 377.67,467.33 376.83,470.67 379.33,477.33 396,478.17 406,476.5 419.33,476.5 422.67,480.67 423.5,487M448,439 442.67,442.33 436,446.5 429.33,451.5 426.83,455.67 426,462.33 424.33,472.33 427.67,479 432.67,482.33 439.33,485.67 442.67,487M346,474 352.67,474 353.5,479 352.67,484 349.33,484.83M356,477.33 359.33,469 361,477.33 361.83,482.33 362.67,485.67M368.5,480.67 369.33,478.17 371,479 371,484 369.33,484.83 368.5,480.67M446,435.99 449.4,435.14 454.5,431.75 461.29,430.9 462.65,429.54M471.49,427.16 476.59,420.7 477.44,419M446,441.09 456.2,437.69 468.09,432.59 479.99,427.5 493.58,420.7 495.28,419M469.79,468.28 474.89,459.78 474.04,456.39 481.69,451.29 486.78,452.14 491.03,448.74 507.18,448.74 508.03,450.44 519.07,449.59 521.62,444.49 522.47,447.89 519.92,451.29 507.18,452.14 496.98,453.84 488.48,457.24 479.99,460.63 474.89,463.18 470.64,467.43M460.44,469.98 464.69,469.98M527.23,445.34 529.27,444.83 530.12,447.04 529.27,449.25 527.23,448.74 527.23,445.34M542.86,441.09 537.76,441.94 535.22,446.19 537.76,450.44 541.16,452.99 544.56,454.69 547.11,452.14M534.37,470.83 536.07,469.13 539.12,469.64 539.46,471.68 536.92,472.53 534.37,470.83M543.71,473.38 547.11,475.08M346,483.33 352.67,483.33 353.5,480M362.67,485 365.17,487.5 363.5,491.67 361,492.5 349.33,492.5 346,493.33M421.83,480 422.67,485 421.83,490 421,494.17 426,498.33 432.67,500.83 437.67,504.17 448,504.17M429.33,480 431,481.67 436.83,482.5 441,486.67 442.67,491.67 448,497.5M359.33,509.17 363.5,509.17 363.5,514.17 359.33,514.17 359.33,509.17M370.17,510 386,508.67 391.83,508M401,510.83 407.67,510.5 406,515 407.67,520.83 399.33,520.83 396,515.83 387.67,514.17 371,514.17 369.33,512.5 370.17,510M349.33,522.5 354.33,525 352.67,528.33 359.33,530.83 356,537.5 351,534.17 346,533.33M366,531.33 366.33,532M423.5,527.5 434.33,527.5 434.33,531.67 431,533.33 423.5,532.5 423.5,527.5M432.67,533.33 436,535 441,535 441,537.5 434.33,537.5M420.17,539.17 432.67,539.17M420.17,539.17 421,542.5 427.33,543M446,497.84 451.1,498.69 457.05,506.34 471.49,506.34 475.74,511.44 477.44,519.08 495.28,519.08 497.83,514.84 502.08,514.84 516.52,515.69 517.37,521.63 523.32,523.33 525.87,526.73 530.97,525.88M446,504.64 449.4,505.49 450.25,515.69 457.9,516.54 461.29,520.78 466.39,522.48 467.24,531.83 469.79,535.23 473.19,540.33 488.48,541.18 510.58,541.18 514.82,542.03 514.82,538.63 510.58,530.98 513.12,530.13 522.47,530.98 525.87,532.68 530.12,531.32M484.24,487.65 486.78,487.31M523.32,515.69 525.87,515.69M533.52,516.03 536.92,515.69 541.16,512.29 543.71,509.74 547.96,508.89 550,508.89M541.16,525.88 545.41,525.03M537.76,533.53 544.56,531.83M346.5,431.2 349,431.1 349.6,426.3 350.8,423.8 354.5,423.2 357.5,423.8 359.9,423.2 361.1,425 360.5,429.9 355.7,431.1 353.3,430.5 349,431.1M370.2,419.5 370.8,425 372.6,428.7 375,430.5M362.5,440.5 364.5,440.2 364.7,442 363.5,443.2 362.5,441.5 362.5,440.5" fill="none" stroke="#000" stroke-width="1" stroke-linejoin="round" stroke-linecap="round" shape-rendering="crispEdges"/>
<path d="M120.2,566 121.1,576.2 122.8,589.8 124.5,591.5 127.9,584.7 129.6,578.7 131.3,584.7 133.8,589.8 136.4,587.2 138.1,596.6 146.6,601.7 150,606.8 156.8,615.3 165.3,620.4 175.5,623.8 185.2,622.9 195.7,620.9 200.9,627.5 206.1,632.7 210.7,634.6 215.3,641.8 219.2,644.4 225.8,646.4 231,644.4 233.6,642.5 228.4,637.3 221.8,633.3 219.9,628.8 219.2,617 221.8,615.7 232.3,614.6 236.2,613.1 245.4,605.2 250.6,603.3 260,603.3 264.9,601.7 279.5,598 290.5,592.5 294,591.5M299.7,588 307,584.3 312.5,577 316.1,569.7 318,566M154.4,565.5 154.4,568.5 151.9,570.9 150.5,576 150,581.3 149.1,588.1 151.7,593.2 158.5,598.3 167,603.4 175.5,605.1 182.3,603.4 185.7,600 190,596.6 198.2,594.9 206.3,592.1 211.2,590.5 222.7,590.2 240,590 255,589.5 268,588.5 280,586.5 288,584M165.3,566 160.2,574.5 157.6,583 159.3,589.8 165.3,593.2 173.8,594.5 182,593.5 190,592.1 198.2,591.7 206.3,590 211,588.3 222.7,587.5 240,587.2 255,587 270,585.5 281,582M172.1,569.4 167,576.2 165.3,583 167,587.2 173.8,588.9 182,589.2 190,589.6 201.4,589.3 208,587.8 212.1,586 222.7,585.4 240,585 255,585 265,584.5 271,583M180.6,566 178.9,572.8 179.7,579.6 185.7,583 190,584.3 203.1,583.9 209.6,582.7 216.1,581.4 226.8,581 240,580.4 254,580M189.1,566 189.1,572.8 190,576.1 193.3,578.2 198.2,579.4 208,579 210.4,578.2M194.1,566 194.9,573.3 198.2,575.7 208,576.1M215.3,609.2 217.3,606 218.4,602 219,597 217.8,595.3 214.5,594.1 210.4,596.1 206.3,600.2 203.1,605 200.3,607 198.4,610.2 201,613.6 206.1,615 209.5,614.4M203.3,566 205,568.7 210,569.7 215,570M301.5,583.39 305.16,587.96 309.74,580.64 311.57,576.98M233.79,571.49 237.45,566M246.6,568.2 248.43,566M251.73,568.2 253.01,566M270.39,575.15 277.71,569.66 279.54,566M286.86,566 290.52,567.83 296.01,566.92M299.67,566 296.93,576.07" fill="none" stroke="#000" stroke-width="1" stroke-linejoin="round" stroke-linecap="round" shape-rendering="crispEdges"/>
<path d="M369.3,569.5 370.5,568.8 371.5,569.7 370.7,571 369.5,570.7M370.2,571 370.7,576 371,577.7 372.7,578.5 401,578.5M409.3,570.2 414.3,568.5 416,566M370.2,576 369.3,582.7 366.8,586.8M369.3,582.7 371,581.8 373.5,586 394.3,586 412.7,581.8 429.3,575.2 439.3,570.2 448,566M361.8,566 362.5,568.5 363.5,566M366,566 366.8,567.7 367.5,566M349.3,578.5 361,578.5 360.2,583.5 356,584.3 349.3,582.7M362,592 363.8,590.3 365.6,592 363.8,594.5 362,592M363.8,594.5 363.5,614.3M346.5,603.5 352.7,604.3 353.5,606.8 346.5,606.8M350.8,620.6 354.5,621.2 354,626 352.5,629.7 350,631 348.5,630.5M359.5,630 360.5,629.7 361,630.9 360,631.8 359.5,630M366,631 371,628.5 376,626.8M366,631 371,635.2 375.5,633.5M384.3,632.7 404.3,632.3 414.3,631 412.7,626 411,624.3 382.7,624.3 378.5,626.8M440.2,604.3 442.7,604.3 441.5,606M444.3,593.5 451.1,586.4 456.2,587.2 461.3,583 466.4,583.8 471.5,578.7 478.3,577.9 482.5,574.5 488.5,573.6M498.7,568.5 503.8,566.8M444.3,593.5 446,594 463,588.1 480,582.1 497,577 514,572 525.9,568.5 527.6,566M531,567.7 536.1,566.8 541.2,568.5 546.3,570.2 548.5,569.5M487.6,608.5 495.3,608.5 498.7,604.2 503.8,601.7 505.5,599.1 519.1,599.1 521.6,597.4M487.6,608.5 487.6,610.2 495.3,610.2 503.8,611 508.9,609.3 507.2,605.1 506.3,601.7 512.3,601.7 514.8,605.9 515.7,611.9 517.4,617 519.1,618.7 520.8,615.3 527.6,613.6 532.7,614.5 536.1,620.4 538.6,625.5 538.6,633.6 534.4,637.9 529.3,638.7 522.5,637 514,635.3 503.8,634.5 495.3,632.8 492.7,635.3 489.3,638.7 491.9,643 497,647.2 514,648.1 525.9,647.2 529.3,643 532.7,643.8 535.2,649.8 538.6,651.5 544.6,650.6M531.8,591.5 534.4,593.2 536.1,596.6 533.5,597.4 531,599.1 528.4,601.7M524.5,601.7 527,602.5 527.6,605 525,607.6 522.5,606 522.5,603 524.5,601.7M536,604 538.6,606 537.8,610 534.4,611 531,607.6M541.2,604.3 546.3,604.3M544,591.5 547,592.5M538.5,614.5 541.2,616 541.2,619 538.5,620.4 536.1,618.5 536.1,615.8 538.5,614.5M548.5,618 545,619.5 543.5,622 545,624.5 548.5,625M539.5,653.2 541.5,647 544,643 548,642.1M494.4,632.3 497,634M351,643.5 354.3,641 357,637.7 358.5,639.5 355,643 351,643.5M358.5,650.2 358.5,655.2 362.7,655.2 365.2,651M375.2,649.3 381.8,649.3 382.7,651 376,651.8M353.5,661.8 358.5,661.8 358.5,663.5 353.5,663.5 353.5,661.8M347.5,664.5 350,666.5 349.5,668M352.7,674.8 363.5,674.8M365,669.3 368.5,673 368.5,679 366.5,682.7 364,680 363.5,673 365,669.3M352.7,673.5 351.3,674.8 352.7,676 354,674.8 352.7,673.5M347.7,683.5 357.7,683.5 352.7,688.5 349.3,686M392.7,691 401,688.5 406,682.7 409.3,680.2 416,678.5 420.2,674.3 432.7,673.5 436.8,673.5 442.7,677.7 448,678.5M448,679 441,679.5 438.5,682 440,685 448,686 452,686.3 459.6,686.3M457,661.7 462.1,661.7 463,664.2 467.2,668.5 471.5,674.4 485.1,674.4 487.6,670.2 505.5,669.3 508.9,674.4 515.7,675.3 517.4,677.9 523.3,678.7M457,661.7 457,665.9 460.4,666.8 463,664.2M463,664.2 466.4,672 468.1,678 474,686.6 463,686.6 461.3,682.5 462,679 464.5,683.5M493.6,679.5 490.2,680.4 489.3,683.8 491.9,686.3 498.7,687.2 500.4,690.6M518.2,661.7 529.3,661.7 532.7,662.5 531.8,666.8 530.1,670.2 531,678.7 529.3,683.8 527.6,677 528.4,668.5 525.9,664.2 518.2,663.4M537.8,661.7 539.5,664.2M541.2,669.3 542.9,671" fill="none" stroke="#000" stroke-width="1" stroke-linejoin="round" stroke-linecap="round" shape-rendering="crispEdges"/>
<path d="M356,272 359.33,278.67 371,279.5 372.33,277.83M414.33,302.83 419.33,304.5 424.33,300.33 429.33,297 434.33,293.67 439.33,291.17 446,289.5 448,288.67M446,288.99 452.8,286.44 459.59,283.05 466.39,280.5 471.49,277.1 473.19,276.25M479.99,274.55 486.78,272.85 488.48,272M462.99,317.88 474.89,317.03 477.44,319.58 473.19,324.68 466.39,326.38 462.99,322.98 462.99,317.88M351,332 356,337.83 361,337 366,335.33 389.33,334.5 392.67,332M367.67,372.83 372.67,374.5 375.17,376.17 374.33,378.67 359.33,378.67 353.5,377 351.83,373.67 352.67,370.33 357.67,370M346,386.17 356,386.17M367.67,386.17 386,386.17 389.33,383.67 394.33,380.33 397.67,378.67 407.67,377.83 410.17,372 412.67,371.17 429.33,371.17 432.67,375.33 434.33,380.33 439.33,383.67 442.67,385.33 448,387M432.67,362 436.83,362.83 437.67,366.17 432.67,367.83 430.17,369.5 431,372M422.67,392 432.67,390.33 439.33,387 448,385.33M422.67,394 448,394M458.75,332 459.59,336.25 464.69,341.35 469.79,343.9 474.04,350.69 491.88,350.69 498.68,357.49 505.48,358.34 508.88,363.44 520.77,363.44 550,364.29M350.2,325.4 350.8,331.4 355.7,337.5 359.3,338.7 362.9,334.5 365.3,333.3 390.7,333.3 393.2,329.6 398,329 400.4,329M527.5,295.6 500.9,295.1 498.8,298.8 494.6,299.9 493,303.1 493.5,307.3 495.6,307.8 505,307.8M536,295.6 545.5,295.6M440.2,321.3 441.9,324.2 445.3,325.3 452,325.8 458.7,325.5 459.4,330 459.6,335" fill="none" stroke="#000" stroke-width="2.6" stroke-linejoin="round" shape-rendering="crispEdges"/>
<path d="M361.8,662.7 384.3,662.7M377.7,674.8 386,674.8M446,678.7 454.5,678.7M503.8,679.3 523.3,679" fill="none" stroke="#000" stroke-width="2.6" stroke-linejoin="round" shape-rendering="crispEdges"/>
<text x="0" y="0" font-size="9.3" font-weight="bold" text-anchor="middle" dominant-baseline="central" transform="translate(150.2,137) rotate(-12)">40</text>
<text x="0" y="0" font-size="9.3" font-weight="bold" text-anchor="middle" dominant-baseline="central" transform="translate(160.5,135.5) rotate(-12)">50</text>
<text x="0" y="0" font-size="9.3" font-weight="bold" text-anchor="middle" dominant-baseline="central" transform="translate(224,135) rotate(-12)">25</text>
<text x="0" y="0" font-size="9.3" font-weight="bold" text-anchor="middle" dominant-baseline="central" transform="translate(241.5,138.5) rotate(25)">15</text>
<text x="0" y="0" font-size="9.3" font-weight="bold" text-anchor="middle" dominant-baseline="central" transform="translate(295,146.5) rotate(10)">25</text>
<text x="0" y="0" font-size="9.3" font-weight="bold" text-anchor="middle" dominant-baseline="central" transform="translate(305.5,152.5) rotate(40)">50</text>
<text x="0" y="0" font-size="9.3" font-weight="bold" text-anchor="middle" dominant-baseline="central" transform="translate(308.5,191) rotate(0)">1</text>
<text x="0" y="0" font-size="9.3" font-weight="bold" text-anchor="middle" dominant-baseline="central" transform="translate(440.6,128.8) rotate(0)">9</text>
<text x="0" y="0" font-size="9.3" font-weight="bold" text-anchor="middle" dominant-baseline="central" transform="translate(358.5,159.6) rotate(0)">9</text>
<text x="0" y="0" font-size="9.3" font-weight="bold" text-anchor="middle" dominant-baseline="central" transform="translate(533,139.7) rotate(0)">9</text>
<text x="0" y="0" font-size="9.3" font-weight="bold" text-anchor="middle" dominant-baseline="central" transform="translate(530,164.8) rotate(0)">9</text>
<text x="0" y="0" font-size="9.3" font-weight="bold" text-anchor="middle" dominant-baseline="central" transform="translate(533,201.5) rotate(0)">9</text>
<text x="0" y="0" font-size="9.3" font-weight="bold" text-anchor="middle" dominant-baseline="central" transform="translate(370.2,207.4) rotate(0)">9</text>
<text x="0" y="0" font-size="9.3" font-weight="bold" text-anchor="middle" dominant-baseline="central" transform="translate(358.9,214.6) rotate(0)">9</text>
<text x="0" y="0" font-size="9.3" font-weight="bold" text-anchor="middle" dominant-baseline="central" transform="translate(142.33814783347495,321.27782497875955) rotate(0)">5</text>
<text x="0" y="0" font-size="9.3" font-weight="bold" text-anchor="middle" dominant-baseline="central" transform="translate(174.11384876805437,282.53525913338996) rotate(-25)">80</text>
<text x="0" y="0" font-size="9.3" font-weight="bold" text-anchor="middle" dominant-baseline="central" transform="translate(234.18496709386906,283.7769310703152) rotate(-20)">50</text>
<text x="0" y="0" font-size="9.3" font-weight="bold" text-anchor="middle" dominant-baseline="central" transform="translate(245.0959473501905,285.85521302390026) rotate(-20)">40</text>
<text x="0" y="0" font-size="9.3" font-weight="bold" text-anchor="middle" dominant-baseline="central" transform="translate(279.7339799099411,275.8101835815726) rotate(0)">40</text>
<text x="0" y="0" font-size="9.3" font-weight="bold" text-anchor="middle" dominant-baseline="central" transform="translate(287.87391756148253,293.1291998614479) rotate(0)">25</text>
<text x="0" y="0" font-size="9.3" font-weight="bold" text-anchor="middle" dominant-baseline="central" transform="translate(303.4610322133703,293.64877034984414) rotate(-30)">50</text>
<text x="0" y="0" font-size="9.3" font-weight="bold" text-anchor="middle" dominant-baseline="central" transform="translate(314.7183927952892,287.9334949774853) rotate(0)">5</text>
<text x="0" y="0" font-size="9.3" font-weight="bold" text-anchor="middle" dominant-baseline="central" transform="translate(306.4052649809491,334.3484586075511) rotate(0)">1</text>
<text x="0" y="0" font-size="9.3" font-weight="bold" text-anchor="middle" dominant-baseline="central" transform="translate(375.5,276) rotate(-20)">9</text>
<text x="0" y="0" font-size="9.3" font-weight="bold" text-anchor="middle" dominant-baseline="central" transform="translate(362.7,295) rotate(0)">3</text>
<text x="0" y="0" font-size="9.3" font-weight="bold" text-anchor="middle" dominant-baseline="central" transform="translate(361,306.6) rotate(0)">6</text>
<text x="0" y="0" font-size="9.3" font-weight="bold" text-anchor="middle" dominant-baseline="central" transform="translate(358.5,322.4) rotate(0)">9</text>
<text x="0" y="0" font-size="9.3" font-weight="bold" text-anchor="middle" dominant-baseline="central" transform="translate(475.5,276.8) rotate(-20)">9</text>
<text x="0" y="0" font-size="9.3" font-weight="bold" text-anchor="middle" dominant-baseline="central" transform="translate(532.5,295.6) rotate(0)">9</text>
<text x="0" y="0" font-size="9.3" font-weight="bold" text-anchor="middle" dominant-baseline="central" transform="translate(530.5,324.2) rotate(0)">9</text>
<text x="0" y="0" font-size="9.3" font-weight="bold" text-anchor="middle" dominant-baseline="central" transform="translate(364.3,347.8) rotate(0)">3</text>
<text x="0" y="0" font-size="9.3" font-weight="bold" text-anchor="middle" dominant-baseline="central" transform="translate(362.7,354) rotate(0)">6</text>
<text x="0" y="0" font-size="9.3" font-weight="bold" text-anchor="middle" dominant-baseline="central" transform="translate(360.6,361.6) rotate(0)">6</text>
<text x="0" y="0" font-size="9.3" font-weight="bold" text-anchor="middle" dominant-baseline="central" transform="translate(363,370.7) rotate(0)">6</text>
<text x="0" y="0" font-size="9.3" font-weight="bold" text-anchor="middle" dominant-baseline="central" transform="translate(361,387) rotate(0)">30</text>
<text x="0" y="0" font-size="9.3" font-weight="bold" text-anchor="middle" dominant-baseline="central" transform="translate(444.3,355.4) rotate(0)">9</text>
<text x="0" y="0" font-size="9.3" font-weight="bold" text-anchor="middle" dominant-baseline="central" transform="translate(535.7,336.2) rotate(0)">6</text>
<text x="0" y="0" font-size="9.3" font-weight="bold" text-anchor="middle" dominant-baseline="central" transform="translate(534.4,362.2) rotate(0)">6</text>
<text x="0" y="0" font-size="9.3" font-weight="bold" text-anchor="middle" dominant-baseline="central" transform="translate(515.2,366.4) rotate(0)">5</text>
<text x="0" y="0" font-size="9.3" font-weight="bold" text-anchor="middle" dominant-baseline="central" transform="translate(532.6,387.7) rotate(0)">6</text>
<text x="0" y="0" font-size="9.3" font-weight="bold" text-anchor="middle" dominant-baseline="central" transform="translate(536,394.5) rotate(0)">6</text>
<text x="0" y="0" font-size="9.3" font-weight="bold" text-anchor="middle" dominant-baseline="central" transform="translate(220.2,427.8) rotate(-10)">25</text>
<text x="0" y="0" font-size="9.3" font-weight="bold" text-anchor="middle" dominant-baseline="central" transform="translate(270.9,429.4) rotate(-60)">5</text>
<text x="0" y="0" font-size="9.3" font-weight="bold" text-anchor="middle" dominant-baseline="central" transform="translate(273.5,436.6) rotate(-60)">10</text>
<text x="0" y="0" font-size="9.3" font-weight="bold" text-anchor="middle" dominant-baseline="central" transform="translate(288.8,429.5) rotate(-60)">5</text>
<text x="0" y="0" font-size="9.3" font-weight="bold" text-anchor="middle" dominant-baseline="central" transform="translate(378,430.2) rotate(0)">9</text>
<text x="0" y="0" font-size="9.3" font-weight="bold" text-anchor="middle" dominant-baseline="central" transform="translate(465.5,426.6) rotate(0)">9</text>
<text x="0" y="0" font-size="9.3" font-weight="bold" text-anchor="middle" dominant-baseline="central" transform="translate(468,468.7) rotate(-30)">9</text>
<text x="0" y="0" font-size="9.3" font-weight="bold" text-anchor="middle" dominant-baseline="central" transform="translate(396,508.3) rotate(0)">9</text>
<text x="0" y="0" font-size="9.3" font-weight="bold" text-anchor="middle" dominant-baseline="central" transform="translate(533.7,526) rotate(-30)">9</text>
<text x="0" y="0" font-size="9.3" font-weight="bold" text-anchor="middle" dominant-baseline="central" transform="translate(430.5,542.8) rotate(0)">9</text>
<text x="0" y="0" font-size="9.3" font-weight="bold" text-anchor="middle" dominant-baseline="central" transform="translate(215,574.2) rotate(-15)">50</text>
<text x="0" y="0" font-size="9.3" font-weight="bold" text-anchor="middle" dominant-baseline="central" transform="translate(225.5,576) rotate(-15)">40</text>
<text x="0" y="0" font-size="9.3" font-weight="bold" text-anchor="middle" dominant-baseline="central" transform="translate(261.2,580.2) rotate(-10)">25</text>
<text x="0" y="0" font-size="9.3" font-weight="bold" text-anchor="middle" dominant-baseline="central" transform="translate(275.4,580.2) rotate(-30)">15</text>
<text x="0" y="0" font-size="9.3" font-weight="bold" text-anchor="middle" dominant-baseline="central" transform="translate(286.4,576.5) rotate(-60)">10</text>
<text x="0" y="0" font-size="9.3" font-weight="bold" text-anchor="middle" dominant-baseline="central" transform="translate(291.4,580.6) rotate(-60)">5</text>
<text x="0" y="0" font-size="9.3" font-weight="bold" text-anchor="middle" dominant-baseline="central" transform="translate(297,590.8) rotate(-20)">1</text>
<text x="0" y="0" font-size="9.3" font-weight="bold" text-anchor="middle" dominant-baseline="central" transform="translate(211.4,612.4) rotate(-20)">1</text>
<text x="0" y="0" font-size="9.3" font-weight="bold" text-anchor="middle" dominant-baseline="central" transform="translate(404.3,573.5) rotate(0)">9</text>
<text x="0" y="0" font-size="9.3" font-weight="bold" text-anchor="middle" dominant-baseline="central" transform="translate(492.7,569.8) rotate(0)">9</text>
<text x="0" y="0" font-size="9.3" font-weight="bold" text-anchor="middle" dominant-baseline="central" transform="translate(526.3,594.5) rotate(0)">9</text>
<text x="0" y="0" font-size="9.3" font-weight="bold" text-anchor="middle" dominant-baseline="central" transform="translate(378.5,632.7) rotate(0)">9</text>
<text x="0" y="0" font-size="9.3" font-weight="bold" text-anchor="middle" dominant-baseline="central" transform="translate(371,651.4) rotate(0)">9</text>
<text x="0" y="0" font-size="9.3" font-weight="bold" text-anchor="middle" dominant-baseline="central" transform="translate(374.7,675.2) rotate(0)">9</text>
<text x="0" y="0" font-size="9.3" font-weight="bold" text-anchor="middle" dominant-baseline="central" transform="translate(497,679.5) rotate(0)">9</text>
<text x="0" y="0" font-size="9.3" font-weight="bold" text-anchor="middle" dominant-baseline="central" transform="translate(535.2,680.8) rotate(0)">0</text>
</svg>
</body></html>
